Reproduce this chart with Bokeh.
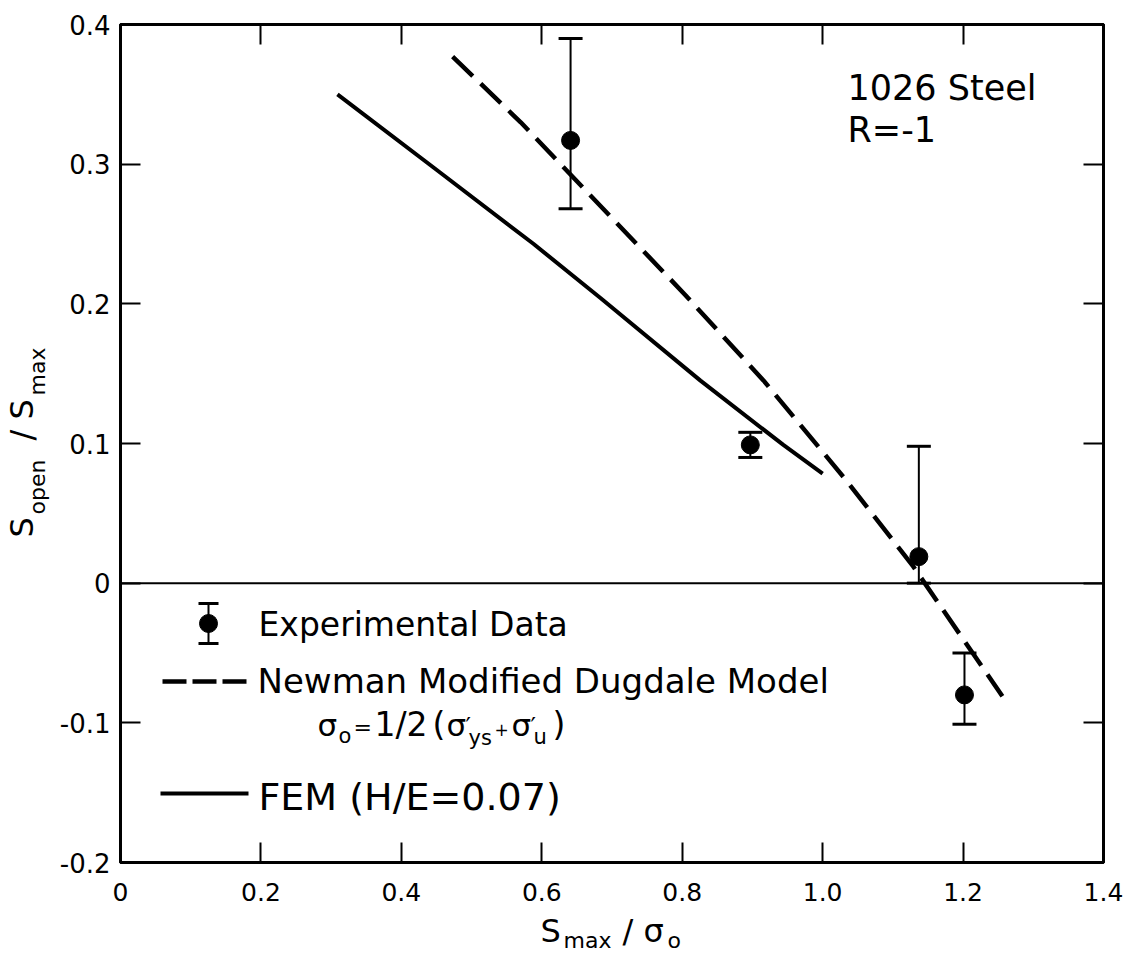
import math
from bokeh.plotting import figure
from bokeh.layouts import row, column
from bokeh.models import (Range1d, LinearAxis, FixedTicker, Span, Whisker, TeeHead,
                          ColumnDataSource, Label)
from bokeh.embed import file_html
from bokeh.resources import INLINE

# ---------------- data ----------------
x_tick_values = [0, 0.2, 0.4, 0.6, 0.8, 1.0, 1.2, 1.4]
x_tick_labels = ["0", "0.2", "0.4", "0.6", "0.8", "1.0", "1.2", "1.4"]
y_tick_values = [-0.2, -0.1, 0, 0.1, 0.2, 0.3, 0.4]
y_tick_labels = ["-0.2", "-0.1", "0", "0.1", "0.2", "0.3", "0.4"]

# experimental data (S_max/sigma_o, S_open/S_max) with scatter band
exp_x = [0.641, 0.897, 1.137, 1.202]
exp_y = [0.317, 0.099, 0.019, -0.080]
exp_upper = [0.390, 0.108, 0.098, -0.050]
exp_lower = [0.268, 0.090, 0.000, -0.101]

# Newman modified Dugdale model (dashed)
newman_x = [0.473, 0.570, 0.805, 0.916, 1.033, 1.129, 1.256]
newman_y = [0.377, 0.330, 0.206, 0.145, 0.074, 0.012, -0.081]

# FEM (H/E = 0.07) (solid)
fem_x = [0.309, 0.450, 0.588, 0.684, 0.826, 0.944, 1.000]
fem_y = [0.350, 0.296, 0.243, 0.204, 0.145, 0.099, 0.0785]

X_RANGE = (0.0, 1.4)
Y_RANGE = (-0.2, 0.4)

# ---------------- layout (page pixels) ----------------
W, H = 1127, 956
LEFT_W = 56            # strip for the y title
BOTTOM_H = 46          # strip for the x title
FRAME_L, FRAME_R, FRAME_T, FRAME_B = 120, 1103, 24, 862
FONT = "DejaVu Sans"
MID = 0.346            # em offset from baseline to the middle of the text box

MAIN_W = W - LEFT_W
MAIN_H = H - BOTTOM_H


def dx(px):
    return X_RANGE[0] + (px - FRAME_L) / (FRAME_R - FRAME_L) * (X_RANGE[1] - X_RANGE[0])


def dy(py):
    return Y_RANGE[1] - (py - FRAME_T) / (FRAME_B - FRAME_T) * (Y_RANGE[1] - Y_RANGE[0])


p = figure(width=MAIN_W, height=MAIN_H, x_range=Range1d(*X_RANGE), y_range=Range1d(*Y_RANGE),
           output_backend="svg", toolbar_location=None,
           min_border_left=FRAME_L - LEFT_W, min_border_right=W - FRAME_R,
           min_border_top=FRAME_T, min_border_bottom=MAIN_H - FRAME_B)
p.xgrid.visible = False
p.ygrid.visible = False
p.background_fill_color = "white"
p.border_fill_color = "white"
p.outline_line_color = "black"
p.outline_line_width = 3


def style_axis(ax, ticks, labels, size, standoff):
    ax.ticker = FixedTicker(ticks=ticks)
    ax.major_label_overrides = dict(zip(ticks, labels))
    ax.major_tick_in = 20
    ax.major_tick_out = 0
    ax.minor_tick_in = 0
    ax.minor_tick_out = 0
    ax.major_tick_line_width = 2
    ax.major_tick_line_color = "black"
    ax.axis_line_width = 3
    ax.axis_line_color = "black"
    ax.major_label_text_font = FONT
    ax.major_label_text_font_size = size
    ax.major_label_text_color = "black"
    ax.major_label_standoff = standoff
    ax.axis_label = None


style_axis(p.xaxis[0], x_tick_values, x_tick_labels, "25px", 20)
style_axis(p.yaxis[0], y_tick_values, y_tick_labels, "26px", 10)

top_axis = LinearAxis()
style_axis(top_axis, x_tick_values, [""] * len(x_tick_values), "10px", 2)
p.add_layout(top_axis, "above")
right_axis = LinearAxis()
style_axis(right_axis, y_tick_values, [""] * len(y_tick_values), "10px", 2)
p.add_layout(right_axis, "right")

# zero line
p.add_layout(Span(location=0, dimension="width", line_color="black", line_width=2))

# model curves
p.line(fem_x, fem_y, line_color="black", line_width=4)
p.line(newman_x, newman_y, line_color="black", line_width=4.5, line_dash="28 11")

# experimental data with error bars
src = ColumnDataSource(dict(x=exp_x, y=exp_y, upper=exp_upper, lower=exp_lower))
p.add_layout(Whisker(source=src, base="x", upper="upper", lower="lower", dimension="height",
                     line_color="black", line_width=2,
                     upper_head=TeeHead(size=24, line_width=3, line_color="black"),
                     lower_head=TeeHead(size=24, line_width=3, line_color="black")))
p.scatter("x", "y", source=src, size=18, color="black")

# ---------------- legend (drawn on the graph) ----------------
leg_src = ColumnDataSource(dict(x=[dx(208)], y=[dy(623)], upper=[dy(603)], lower=[dy(643)]))
p.add_layout(Whisker(source=leg_src, base="x", upper="upper", lower="lower", dimension="height",
                     line_color="black", line_width=2,
                     upper_head=TeeHead(size=20, line_width=3, line_color="black"),
                     lower_head=TeeHead(size=20, line_width=3, line_color="black")))
p.scatter("x", "y", source=leg_src, size=18, color="black")
p.line([dx(162), dx(248)], [dy(681), dy(681)], line_color="black", line_width=4.5, line_dash="24 6")
p.line([dx(160), dx(248)], [dy(793), dy(793)], line_color="black", line_width=4)


def add_label(fig, text, x, y, size, angle=0.0):
    fig.add_layout(Label(x=x, y=y, text=text, text_font=FONT,
                         text_font_size=f"{size}px", text_color="black",
                         text_baseline="middle", text_align="left", angle=angle))


def label(text, px, baseline, size):
    # baseline given in page pixels; the label is anchored at the middle of its text box
    add_label(p, text, dx(px), dy(baseline - MID * size), size)


label("Experimental Data", 258, 635, 33)
label("Newman Modified Dugdale Model", 257, 692, 34)
formula = [("σ", 317, 735, 31), ("o", 338, 743, 21), ("=", 353, 735, 22),
           ("1/2", 374, 735, 33), ("(", 432, 735, 33), ("σ", 446, 735, 31),
           ("′", 465, 735, 24), ("ys", 468, 745, 21), ("+", 494, 735, 17),
           ("σ", 511, 735, 31), ("′", 530, 735, 24), ("u", 533, 744, 21),
           (")", 552, 735, 33)]
for t, x0, y0, s in formula:
    label(t, x0, y0, s)
label("FEM (H/E=0.07)", 258, 810, 38)
label("1026 Steel", 847, 100, 35)
label("R=-1", 847, 142, 35)


# ---------------- axis titles (strips beside the graph) ----------------
def strip(width, height, xr, yr):
    f = figure(width=width, height=height, x_range=Range1d(*xr), y_range=Range1d(*yr),
               output_backend="svg", toolbar_location=None, title=None,
               x_axis_location=None, y_axis_location=None, min_border=0,
               min_border_left=0, min_border_right=0, min_border_top=0, min_border_bottom=0)
    f.grid.visible = False
    f.outline_line_color = None
    f.background_fill_color = "white"
    f.border_fill_color = "white"
    return f


# vertical title: pieces run upward; (baseline x, start y)
ytitle = strip(LEFT_W, H, (0, LEFT_W), (H, 0))
for t, bx, y0, s in [("S", 33, 537, 32), ("open", 45, 514, 22), ("/", 33, 440, 32),
                     ("S", 33, 419, 32), ("max", 45, 395, 22)]:
    add_label(ytitle, t, bx - MID * s, y0, s, angle=math.pi / 2)

# horizontal title: the strip's frame lines up with the graph's frame
xtitle = strip(MAIN_W, BOTTOM_H, (FRAME_L, FRAME_R), (H, MAIN_H))
for t, x0, by, s in [("S", 540, 942, 32), ("max", 563, 948, 22), ("/", 622, 942, 32),
                     ("σ", 643, 942, 32), ("o", 667, 948, 22)]:
    add_label(xtitle, t, x0, by - MID * s, s)

layout = row(ytitle, column(p, xtitle, spacing=0), spacing=0)

open("out.html", "w").write(file_html(layout, INLINE))
